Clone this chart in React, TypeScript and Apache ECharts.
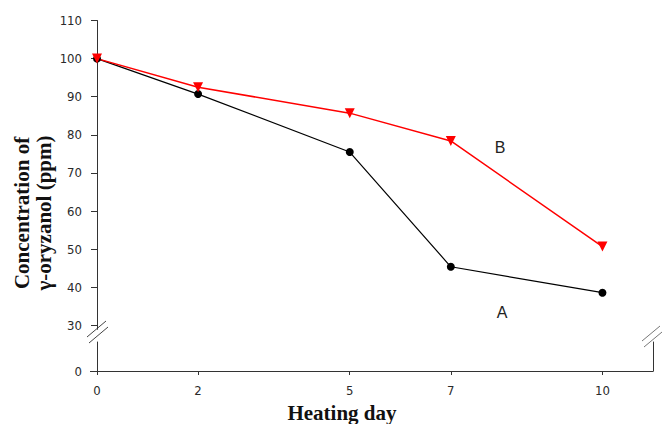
import React, { useEffect, useRef } from "react";
import * as echarts from "echarts";

const days = [0, 2, 5, 7, 10];
const seriesA = [100, 90.7, 75.5, 45.4, 38.6];
const seriesB = [100, 92.5, 85.7, 78.4, 50.7];
const yTicks = [30, 40, 50, 60, 70, 80, 90, 100, 110];
const yLowTicks = [0];
const xTicks = [0, 2, 5, 7, 10];

export default function App() {
  const ref = useRef<HTMLDivElement>(null);
  useEffect(() => {
    const chart = echarts.init(ref.current!, null, { renderer: "svg" });
    const axisColor = "#333";
    const lineStyle = { color: axisColor, width: 1 };
    const tickFont = { fontFamily: "'DejaVu Sans Condensed', 'DejaVu Sans', sans-serif", fontSize: 13, color: "#2a2a2a" };
    const breakStyle = { stroke: "#444", lineWidth: 1 };
    chart.setOption({
      animation: false,
      backgroundColor: "#fff",
      grid: [
        { left: 97, right: 9, top: 20.5, bottom: 94.7 },
        { left: 97, right: 9, top: 342, bottom: 53 },
      ],
      xAxis: [
        { type: "value", gridIndex: 0, min: 0, max: 11, show: false, splitLine: { show: false } },
        {
          type: "value",
          gridIndex: 1,
          min: 0,
          max: 11,
          axisLine: { show: true, onZero: false, lineStyle },
          axisTick: { show: true, length: 4, customValues: xTicks, lineStyle },
          axisLabel: { customValues: xTicks, margin: 13, ...tickFont },
          splitLine: { show: false },
        },
      ],
      yAxis: [
        {
          type: "value",
          gridIndex: 0,
          min: 29,
          max: 110,
          axisLine: { show: true, lineStyle },
          axisTick: { show: true, length: 6, customValues: yTicks, lineStyle },
          axisLabel: { customValues: yTicks, margin: 15, ...tickFont },
          splitLine: { show: false },
        },
        {
          type: "value",
          gridIndex: 1,
          min: 0,
          max: 1,
          axisLine: { show: true, lineStyle },
          axisTick: { show: true, length: 7, customValues: yLowTicks, lineStyle },
          axisLabel: { customValues: yLowTicks, margin: 15, ...tickFont },
          splitLine: { show: false },
        },
        {
          type: "value",
          gridIndex: 1,
          position: "right",
          min: 0,
          max: 1,
          axisLine: { show: true, lineStyle },
          axisTick: { show: false },
          axisLabel: { show: false },
          splitLine: { show: false },
        },
      ],
      series: [
        {
          name: "A",
          type: "line",
          xAxisIndex: 0,
          yAxisIndex: 0,
          data: days.map((d, i) => [d, seriesA[i]]),
          symbol: "circle",
          symbolSize: 8,
          lineStyle: { color: "#000", width: 1.2 },
          itemStyle: { color: "#000" },
        },
        {
          name: "B",
          type: "line",
          xAxisIndex: 0,
          yAxisIndex: 0,
          data: days.map((d, i) => [d, seriesB[i]]),
          symbol: "triangle",
          symbolRotate: 180,
          symbolSize: 10,
          lineStyle: { color: "#ff0000", width: 1.5 },
          itemStyle: { color: "#ff0000" },
        },
      ],
      graphic: [
        {
          type: "text",
          x: 342,
          y: 413,
          style: {
            text: "Heating day",
            font: "bold 21px 'Liberation Serif'",
            fill: "#111",
            textAlign: "center",
            textVerticalAlign: "middle",
          },
        },
        {
          type: "text",
          x: 32.5,
          y: 213,
          rotation: Math.PI / 2,
          style: {
            text: "Concentration of\nγ-oryzanol (ppm)",
            font: "bold 21px 'Liberation Serif'",
            lineHeight: 22,
            fill: "#111",
            textAlign: "center",
            textVerticalAlign: "middle",
          },
        },
        {
          type: "text",
          x: 500,
          y: 147,
          style: { text: "B", font: "16px 'Liberation Sans'", fill: "#222", textAlign: "center", textVerticalAlign: "middle" },
        },
        {
          type: "text",
          x: 502,
          y: 312,
          style: { text: "A", font: "16px 'Liberation Sans'", fill: "#222", textAlign: "center", textVerticalAlign: "middle" },
        },
        { type: "line", shape: { x1: 87, y1: 337, x2: 106, y2: 321 }, style: breakStyle },
        { type: "line", shape: { x1: 89, y1: 343, x2: 108, y2: 327 }, style: breakStyle },
        { type: "rect", shape: { x: 95, y: 331, width: 5, height: 8 }, style: { fill: "#fff" }, z: -1 },
        { type: "line", shape: { x1: 642, y1: 341, x2: 660, y2: 326 }, style: { stroke: "#777", lineWidth: 1 } },
        { type: "line", shape: { x1: 644, y1: 347, x2: 662, y2: 332 }, style: { stroke: "#777", lineWidth: 1 } },
      ],
    });
    return () => chart.dispose();
  }, []);
  return (
    <div
      ref={ref}
      style={{ position: "absolute", left: 0, top: 0, width: 662, height: 424 }}
    />
  );
}
